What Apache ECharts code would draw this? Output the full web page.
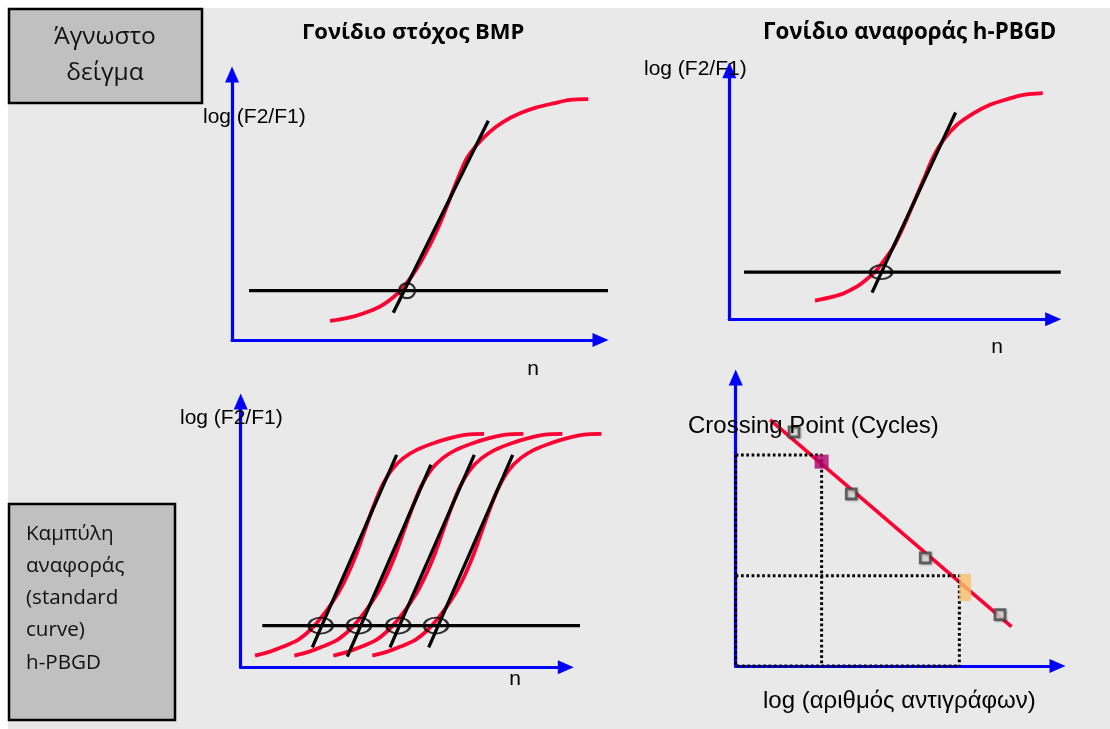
<!DOCTYPE html>
<html>
<head>
<meta charset="utf-8">
<script src="https://cdn.jsdelivr.net/npm/echarts@6/dist/echarts.min.js"></script>
<style>
  html, body { margin: 0; padding: 0; background: #fff; }
  #chart { width: 1110px; height: 729px; }
</style>
</head>
<body>
<div id="chart"></div>
<script>
// ---------------- data ----------------
// Amplification curve of the target gene (cycle n, log F2/F1)
const bmpCurve = [[10.64,0.72],[12.45,0.82],[14.25,1.00],[16.07,1.26],[17.51,1.61],[18.60,1.98],[19.68,2.49],[20.41,2.89],[21.49,3.58],[22.58,4.39],[23.31,5.02],[24.02,5.65],[24.75,6.28],[25.48,6.84],[26.56,7.34],[28.01,7.85],[29.45,8.22],[31.26,8.54],[33.07,8.76],[34.88,8.91],[36.69,9.04],[38.68,9.07]];
const bmpTangent = [[17.51,1.03],[27.82,8.26]];
const bmpThreshold = [[1.85,1.86],[40.81,1.86]];
const bmpCrossing = [[19.0,1.86]];

// Amplification curve of the reference gene
const pbgdCurve = [[10.58,0.75],[12.44,0.88],[14.08,1.04],[15.74,1.31],[16.97,1.61],[18.20,1.98],[19.44,2.51],[20.27,2.91],[21.50,3.72],[22.74,4.65],[23.97,5.59],[25.21,6.53],[26.45,7.20],[28.09,7.80],[30.15,8.27],[32.21,8.61],[34.26,8.83],[36.32,9.01],[38.71,9.08]];
const pbgdTangent = [[17.63,1.07],[27.95,8.30]];
const pbgdThreshold = [[1.82,1.89],[40.93,1.89]];
const pbgdCrossing = [[18.75,1.89]];

// Standard dilution series: shared signal levels, cycle positions per dilution
const stdSignal = [0.44,0.59,0.78,1.00,1.28,1.59,1.97,2.41,2.91,3.54,4.29,5.17,6.04,6.80,7.43,7.87,8.18,8.43,8.62,8.75,8.78];
const stdCycles1 = [1.76,3.61,5.24,6.89,8.12,9.14,10.16,11.20,12.22,13.24,14.27,15.29,16.32,17.35,18.58,20.01,21.65,23.70,25.75,27.80,29.94];
const stdCycles2 = [6.60,8.45,10.08,11.73,12.96,13.98,15.00,16.04,17.06,18.08,19.11,20.13,21.16,22.19,23.42,24.85,26.49,28.54,30.59,32.64,34.78];
const stdCycles3 = [11.40,13.25,14.88,16.53,17.76,18.78,19.80,20.84,21.86,22.88,23.91,24.93,25.96,26.99,28.22,29.65,31.29,33.34,35.39,37.44,39.58];
const stdCycles4 = [16.20,18.05,19.68,21.33,22.56,23.58,24.60,25.64,26.66,27.68,28.71,29.73,30.76,31.79,33.02,34.45,36.09,38.14,40.19,42.24,44.38];
const stdTangents = [
  [[8.81,0.75],[19.19,7.99]],
  [[13.11,0.40],[23.41,7.62]],
  [[18.37,0.75],[28.74,7.99]],
  [[23.13,0.75],[33.47,7.99]]
];
const stdThreshold = [[2.66,1.57],[41.75,1.57]];
const stdCrossings = [[9.84,1.57],[14.55,1.57],[19.39,1.57],[24.03,1.57]];

// Standard curve: log(copies) vs crossing point (cycles)
const fitLine = [[1.07,34.11],[8.57,5.45]];
const standards = [[1.81,32.45],[3.59,23.86],[5.89,14.98],[8.21,7.11]];
const sampleBmp = [[2.67,28.33]];
const samplePbgd = [[7.13,10.89]];
const guideBmp = [[0,29.25],[2.67,29.25],[2.67,0]];
const guidePbgd = [[0,12.52],[6.95,12.52],[6.95,0]];
const guideFrame = [[0,29.25],[0,0],[6.95,0]];

// ---------------- texts ----------------
const titleTarget = 'Γονίδιο στόχος BMP';
const titleReference = 'Γονίδιο αναφοράς h-PBGD';
const boxUnknown = ['Άγνωστο', 'δείγμα'];
const boxStandard = ['Καμπύλη', 'αναφοράς', '(standard', 'curve)', 'h-PBGD'];
const yLabel = 'log (F2/F1)';
const xLabel = 'n';
const cpLabel = 'Crossing Point (Cycles)';
const copiesLabel = 'log (αριθμός αντιγράφων)';

// ---------------- layout & styles ----------------
const RED = '#ff0033';
const BLUE = '#0000ff';
const LABEL_FONT = '"Liberation Sans", Arial, sans-serif';
const BOX_FONT = '"Open Sans", "Noto Sans", sans-serif';

// Frame of each panel (where the arrowed axes are drawn)
const frames = [
  { left: 232,   top: 74.5,  width: 368.5, height: 265.5 },
  { left: 729.3, top: 70.2,  width: 323.9, height: 249.1 },
  { left: 240.7, top: 401.5, width: 325.1, height: 265.8 },
  { left: 735.7, top: 377.5, width: 321.8, height: 288.5 }
];
const ranges = [[40, 10], [40, 10], [40, 10], [10, 40]];
// Marks may run past the arrow heads, so they are plotted on a wider,
// invisible grid that shares the same origin and scale as the frame
// (kept inside the canvas so the grid is not shrunk).
const EXTRA = 40;
const drawGrids = frames.map(f => ({ left: f.left, top: f.top - EXTRA, width: f.width + EXTRA, height: f.height + EXTRA }));

function arrowLine() {
  return {
    show: true, onZero: false,
    symbol: ['none', 'triangle'], symbolSize: [14, 16],
    lineStyle: { color: BLUE, width: 3.2 }
  };
}
const hidden = { axisLine: { show: false }, axisTick: { show: false }, axisLabel: { show: false }, splitLine: { show: false } };
const shown = () => ({ axisLine: arrowLine(), axisTick: { show: false }, axisLabel: { show: false }, splitLine: { show: false } });

const xAxes = [
  ...ranges.map((r, i) => Object.assign({ type: 'value', gridIndex: i, min: 0, max: r[0] }, shown())),
  ...ranges.map((r, i) => Object.assign({ type: 'value', gridIndex: 4 + i, min: 0,
    max: r[0] * drawGrids[i].width / frames[i].width }, hidden))
];
const yAxes = [
  ...ranges.map((r, i) => Object.assign({ type: 'value', gridIndex: i, min: 0, max: r[1] }, shown())),
  ...ranges.map((r, i) => Object.assign({ type: 'value', gridIndex: 4 + i, min: 0,
    max: r[1] * drawGrids[i].height / frames[i].height }, hidden))
];

function line(data, panel, color, width, extra) {
  return Object.assign({
    type: 'line', xAxisIndex: 4 + panel, yAxisIndex: 4 + panel, data: data,
    showSymbol: false, symbol: 'none', clip: false, silent: true, z: 3,
    lineStyle: { color: color, width: width, cap: 'butt' }
  }, extra || {});
}
function dotted(data, panel) {
  return line(data, panel, '#000', 3, { z: 4, lineStyle: { color: '#000', width: 3, type: [2.7, 2.6], cap: 'butt' } });
}
const ELLIPSE = 'path://M0,10A10,10,0,1,1,20,10A10,10,0,1,1,0,10Z';
function rings(data, panel, size) {
  return {
    type: 'scatter', xAxisIndex: 4 + panel, yAxisIndex: 4 + panel, data: data, silent: true,
    symbol: ELLIPSE, symbolSize: size, z: 5,
    itemStyle: { color: 'rgba(0,0,0,0)', borderColor: '#000', borderWidth: 2.2 }
  };
}
const zip = (xs, ys) => xs.map((x, i) => [x, ys[i]]);

const series = [
  // target gene panel
  line(bmpCurve, 0, RED, 3.8, { smooth: 0.3, z: 2 }),
  line(bmpThreshold, 0, '#000', 3.3),
  line(bmpTangent, 0, '#000', 3.3),
  rings(bmpCrossing, 0, [16, 15]),
  // reference gene panel
  line(pbgdCurve, 1, RED, 3.8, { smooth: 0.3, z: 2 }),
  line(pbgdThreshold, 1, '#000', 3.3),
  line(pbgdTangent, 1, '#000', 3.3),
  rings(pbgdCrossing, 1, [22, 14]),
  // standard dilutions
  line(zip(stdCycles1, stdSignal), 2, RED, 3.8, { smooth: 0.3, z: 2 }),
  line(zip(stdCycles2, stdSignal), 2, RED, 3.8, { smooth: 0.3, z: 2 }),
  line(zip(stdCycles3, stdSignal), 2, RED, 3.8, { smooth: 0.3, z: 2 }),
  line(zip(stdCycles4, stdSignal), 2, RED, 3.8, { smooth: 0.3, z: 2 }),
  line(stdThreshold, 2, '#000', 3.3),
  ...stdTangents.map(t => line(t, 2, '#000', 3.3)),
  rings(stdCrossings, 2, [24, 16]),
  // standard curve
  line(fitLine, 3, RED, 3.6, { z: 2 }),
  dotted(guideFrame, 3),
  dotted(guideBmp, 3),
  dotted(guidePbgd, 3),
  {
    type: 'scatter', xAxisIndex: 7, yAxisIndex: 7, data: standards, silent: true, z: 5,
    symbol: 'rect', symbolSize: 10,
    itemStyle: { color: '#dedede', borderColor: '#474747', borderWidth: 2.7,
      shadowColor: 'rgba(0,0,0,0.3)', shadowBlur: 2, shadowOffsetX: 1, shadowOffsetY: 1 }
  },
  {
    type: 'scatter', xAxisIndex: 7, yAxisIndex: 7, data: sampleBmp, silent: true, z: 6,
    symbol: 'rect', symbolSize: 14, itemStyle: { color: '#b0006a' }
  },
  {
    type: 'scatter', xAxisIndex: 7, yAxisIndex: 7, data: samplePbgd, silent: true, z: 6,
    symbol: 'rect', symbolSize: [12, 27], itemStyle: { color: '#f7bf6b' }
  }
];

function text(str, x, y, size, style) {
  return {
    type: 'text', x: x, y: y, z: 100, silent: true,
    style: Object.assign({
      text: str, fontSize: size, fontFamily: LABEL_FONT, fill: '#000',
      align: 'left', verticalAlign: 'middle'
    }, style || {})
  };
}

const graphic = {
  elements: [
    // white page margins
    { type: 'rect', z: 0, silent: true, shape: { x: 0, y: 0, width: 1110, height: 8 }, style: { fill: '#fff' } },
    { type: 'rect', z: 0, silent: true, shape: { x: 0, y: 0, width: 8, height: 729 }, style: { fill: '#fff' } },
    // caption boxes
    { type: 'rect', z: 50, silent: true, shape: { x: 9, y: 9, width: 193, height: 94 },
      style: { fill: '#c0c0c0', stroke: '#000', lineWidth: 2.5 } },
    { type: 'rect', z: 50, silent: true, shape: { x: 9, y: 504, width: 166, height: 216 },
      style: { fill: '#c0c0c0', stroke: '#000', lineWidth: 2.5 } },
    text(boxUnknown[0], 105, 37, 24.5, { fontFamily: BOX_FONT, align: 'center', fill: '#111' }),
    text(boxUnknown[1], 105, 73, 24.5, { fontFamily: BOX_FONT, align: 'center', fill: '#111' }),
    ...boxStandard.map((s, i) => text(s, 26, 534 + i * 32.2, 20.6, { fontFamily: BOX_FONT, fill: '#111' })),
    // panel titles
    text(titleTarget, 302, 33, 22, { fontFamily: BOX_FONT, fontWeight: 'bold' }),
    text(titleReference, 763, 33, 22.3, { fontFamily: BOX_FONT, fontWeight: 'bold' }),
    // axis captions
    text(yLabel, 203, 117, 21),
    text(xLabel, 533, 369, 21, { align: 'center' }),
    text(yLabel, 644, 69, 21),
    text(xLabel, 997, 347, 21, { align: 'center' }),
    text(yLabel, 180, 418, 21),
    text(xLabel, 515, 679, 21, { align: 'center' }),
    text(cpLabel, 688, 426, 24),
    text(copiesLabel, 763, 701, 24)
  ]
};

const chart = echarts.init(document.getElementById('chart'), null, { renderer: 'canvas' });
chart.setOption({
  animation: false,
  backgroundColor: '#e9e9e9',
  grid: [...frames, ...drawGrids],
  xAxis: xAxes,
  yAxis: yAxes,
  series: series,
  graphic: graphic
});
</script>
</body>
</html>
